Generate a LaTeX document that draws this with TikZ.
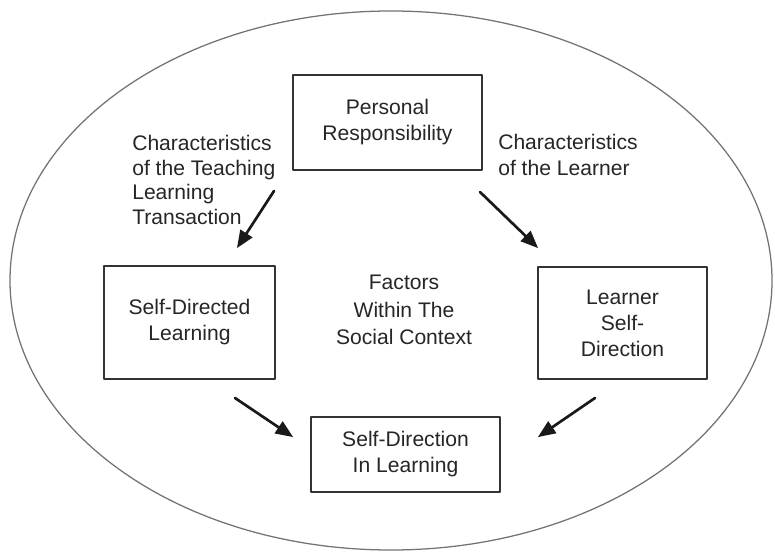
\documentclass[tikz,border=0pt]{standalone}
\usepackage{fontspec}
\setmainfont{Liberation Sans}
\usetikzlibrary{arrows}

\begin{document}
\begin{tikzpicture}[line cap=round,line join=round,>=triangle 45,x=1.0cm,y=1.0cm,
  box/.style={draw=black!80,line width=1.1pt,align=center,text=black!85,font=\fontsize{15}{18.5}\selectfont},
  lbl/.style={inner sep=0pt,text=black!85,font=\fontsize{15}{18.5}\selectfont},
  arr/.style={->,line width=1.9pt,color=black!90}]
\useasboundingbox (0.,0.) rectangle (19.375,13.85);
\draw [line width=0.9pt,color=black!55] (9.775,6.8375) ellipse (9.525 and 6.7375);
% boxes
\node [box,minimum width=4.725cm,minimum height=2.375cm] (resp) at (9.6875,10.7875) {Personal\\Responsibility};
\node [box,minimum width=4.275cm,minimum height=2.825cm] (sdl) at (4.7375,5.7875) {Self-Directed\\Learning};
\node [box,minimum width=4.225cm,minimum height=2.8cm] (lsd) at (15.5625,5.775) {Learner\\Self-\\Direction};
\node [box,minimum width=4.725cm,minimum height=1.875cm] (sdil) at (10.1375,2.4875) {Self-Direction\\In Learning};
% labels
\node [lbl,anchor=west,align=left,font=\fontsize{15}{17.5}\selectfont] (teach) at (3.3,9.35) {Characteristics\\of the Teaching\\Learning\\Transaction};
\node [lbl,anchor=west,align=left] (learner) at (12.45,9.975) {Characteristics\\of the Learner};
\node [lbl,align=center,font=\fontsize{15}{19.5}\selectfont] (social) at (10.1,6.1) {Factors\\Within The\\Social Context};
% arrows
\coordinate (a1s) at (6.85,9.075);
\coordinate (a1e) at (5.925,7.65);
\coordinate (a2s) at (12.,9.05);
\coordinate (a2e) at (13.45,7.65);
\coordinate (a3s) at (5.875,3.9);
\coordinate (a3e) at (7.325,2.925);
\coordinate (a4s) at (14.875,3.9);
\coordinate (a4e) at (13.45,2.925);
\draw [arr] (a1s) -- (a1e);
\draw [arr] (a2s) -- (a2e);
\draw [arr] (a3s) -- (a3e);
\draw [arr] (a4s) -- (a4e);
\end{tikzpicture}
\end{document}
